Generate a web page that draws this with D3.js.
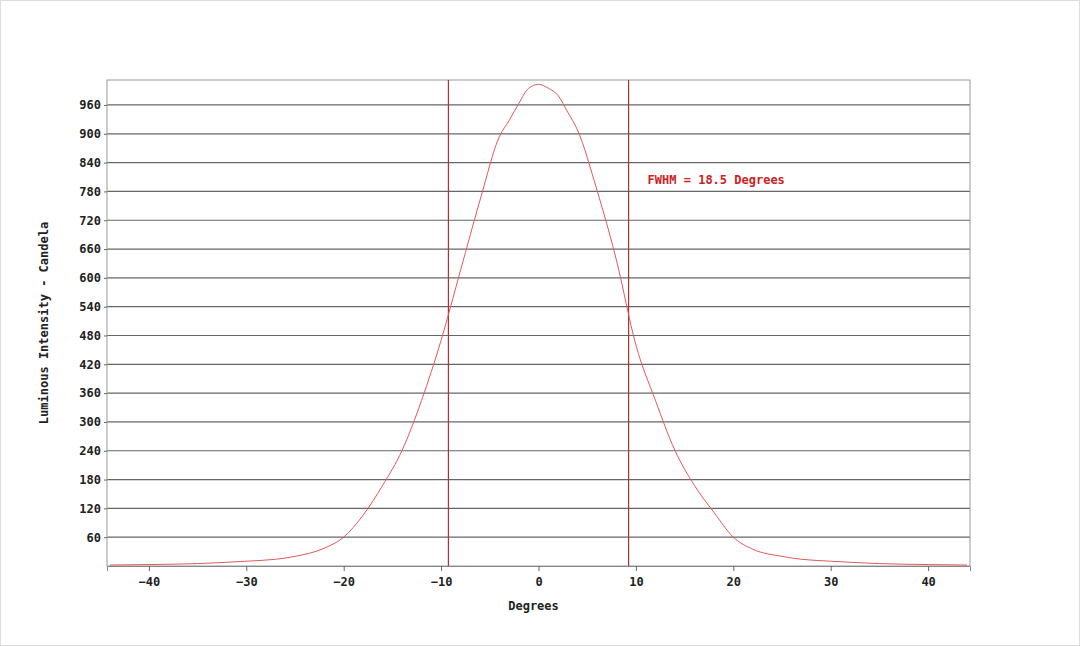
<!DOCTYPE html>
<html>
<head>
<meta charset="utf-8">
<script src="https://cdn.jsdelivr.net/npm/d3@7"></script>
<style>
  body { margin: 0; background: #fff; }
  svg text { font-family: "DejaVu Sans Mono", monospace; font-weight: bold; font-size: 12px; fill: #222; }
</style>
</head>
<body>
<svg id="chart" width="1080" height="646"></svg>
<script>
// beam profile
var degrees = [-44, -40, -35, -30, -27, -25, -22, -20, -18, -16, -14, -12, -10, -8, -6, -4, -3, -2, -1, 0,
               1, 2, 3, 4, 6, 8, 10, 12, 14, 16, 18, 20, 22, 25, 27, 30, 35, 40, 44];
var candela = [2, 3, 5, 10, 14, 20, 37, 60, 106, 168, 241, 345, 470, 616, 762, 895, 928, 964, 995, 1003,
               995, 980, 945, 908, 783, 637, 460, 345, 241, 168, 112, 60, 35, 20, 14, 10, 5, 3, 2];
var yTicks = [60, 120, 180, 240, 300, 360, 420, 480, 540, 600, 660, 720, 780, 840, 900, 960];
var xTicks = [-40, -30, -20, -10, 0, 10, 20, 30, 40];
var fwhmLines = [-9.25, 9.25];
var fwhmLabel = 'FWHM = 18.5 Degrees';

var svg = d3.select('#chart');
var plotLeft = 107, plotRight = 970, plotTop = 80, plotBottom = 566;

var x = d3.scaleLinear().domain([-44.3, 44.3]).range([plotLeft, plotRight]);
var y = d3.scaleLinear().domain([0, 1012]).range([plotBottom, plotTop]);

svg.append('rect').attr('x', 0.5).attr('y', 0.5).attr('width', 1079).attr('height', 645)
  .attr('fill', 'none').attr('stroke', '#ddd');

// grid
svg.selectAll('.grid').data(yTicks).enter().append('line')
  .attr('x1', plotLeft).attr('x2', plotRight)
  .attr('y1', function(d) { return y(d); }).attr('y2', function(d) { return y(d); })
  .attr('stroke', '#666').attr('stroke-width', 1.2);

svg.append('rect').attr('x', plotLeft).attr('y', plotTop)
  .attr('width', plotRight - plotLeft).attr('height', plotBottom - plotTop)
  .attr('fill', 'none').attr('stroke', '#999');

var yAxis = svg.append('g').attr('transform', 'translate(' + plotLeft + ',0)')
  .call(d3.axisLeft(y).tickValues(yTicks).tickSize(3).tickPadding(3));
yAxis.select('.domain').remove();
yAxis.selectAll('line').attr('stroke', '#666');

var xAxis = svg.append('g').attr('transform', 'translate(0,' + plotBottom + ')')
  .call(d3.axisBottom(x).tickValues(xTicks).tickSize(5).tickPadding(6));
xAxis.select('.domain').attr('stroke', '#888');
xAxis.selectAll('line').attr('stroke', '#666');

// FWHM markers
svg.selectAll('.fwhm').data(fwhmLines).enter().append('line')
  .attr('x1', function(d) { return x(d); }).attr('x2', function(d) { return x(d); })
  .attr('y1', plotTop).attr('y2', plotBottom)
  .attr('stroke', '#b03030').attr('stroke-width', 1.2);

var line = d3.line()
  .x(function(d, i) { return x(degrees[i]); })
  .y(function(d) { return y(d); })
  .curve(d3.curveMonotoneX);

svg.append('path').datum(candela).attr('d', line)
  .attr('fill', 'none').attr('stroke', '#e05a5a').attr('stroke-width', 1);

svg.append('text').attr('x', x(11.2)).attr('y', y(804)).attr('dy', '0.35em')
  .style('fill', '#cc2222').text(fwhmLabel);

svg.append('text').attr('x', (plotLeft + plotRight) / 2 - 5).attr('y', 610).attr('text-anchor', 'middle')
  .text('Degrees');
svg.append('text').attr('transform', 'translate(48,' + (plotTop + plotBottom) / 2 + ') rotate(-90)')
  .attr('text-anchor', 'middle').text('Luminous Intensity - Candela');
</script>
</body>
</html>
